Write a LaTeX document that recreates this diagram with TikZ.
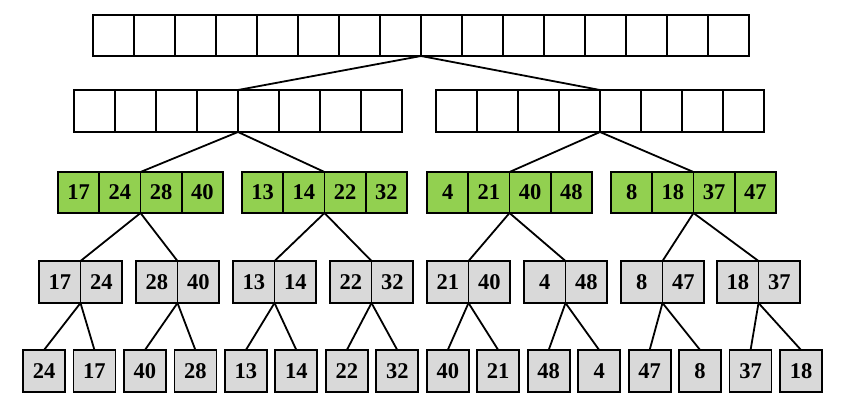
\documentclass[tikz,border=0pt]{standalone}
\usepackage{fontspec}
\setmainfont{Liberation Serif}
\usetikzlibrary{positioning}
\definecolor{mergegreen}{HTML}{92D050}
\definecolor{splitgray}{HTML}{D9D9D9}

\begin{document}
\begin{tikzpicture}[
  x=1pt, y=-1pt,
  cell/.style={draw, line width=1.8pt, inner sep=0pt, outer sep=0pt, minimum height=41pt, font=\fontsize{22.5}{24}\selectfont\bfseries},
  emptycell/.style={cell, minimum width=41pt},
  mergecell/.style={cell, fill=mergegreen, minimum width=41.25pt},
  paircell/.style={cell, fill=splitgray, minimum width=41.5pt, minimum height=42pt},
  leafcell/.style={cell, fill=splitgray, minimum width=42pt, minimum height=42pt},
  link/.style={line width=1.8pt}
]
\useasboundingbox (0,0) rectangle (845,400);

% Row 1: full array
\foreach \i in {1,...,16}
  \node[emptycell] (t\i) at ({93+41*(\i-0.5)}, 35.5) {};

% Row 2: two halves
\foreach \g/\x in {1/74, 2/436}
  \foreach \i in {1,...,8}
    \node[emptycell, minimum height=42pt] (h\g-\i) at ({\x+41*(\i-0.5)}, 111) {};

% Row 3: sorted quarters
\foreach \g/\x/\a/\b/\c/\d in {1/58/17/24/28/40, 2/242/13/14/22/32, 3/427/4/21/40/48, 4/611/8/18/37/47}
  \foreach \i/\v in {1/\a, 2/\b, 3/\c, 4/\d}
    \node[mergecell] (g\g-\i) at ({\x+41.25*(\i-0.5)}, 192.5) {\v};

% Row 4: sorted pairs
\foreach \p/\x/\a/\b in {1/39/17/24, 2/136/28/40, 3/233/13/14, 4/330/22/32, 5/427/21/40, 6/524/4/48, 7/621/8/47, 8/717/18/37} {
  \node[paircell] (p\p-1) at ({\x+20.75}, 282) {\a};
  \node[paircell] (p\p-2) at ({\x+62.25}, 282) {\b};
}

% Row 5: single elements
\foreach \v [count=\i] in {24,17,40,28,13,14,22,32,40,21,48,4,47,8,37,18}
  \node[leafcell] (l\i) at ({44+50.47*(\i-1)}, 371) {\v};

% Connectors
\draw[link] (t8.south east) -- (h1-4.north east);
\draw[link] (t8.south east) -- (h2-4.north east);
\foreach \g in {1,2} {
  \pgfmathtruncatemacro{\ga}{2*\g-1}
  \pgfmathtruncatemacro{\gb}{2*\g}
  \draw[link] (h\g-4.south east) -- (g\ga-2.north east);
  \draw[link] (h\g-4.south east) -- (g\gb-2.north east);
}
\foreach \k in {1,...,4} {
  \pgfmathtruncatemacro{\pa}{2*\k-1}
  \pgfmathtruncatemacro{\pb}{2*\k}
  \draw[link] (g\k-2.south east) -- (p\pa-1.north east);
  \draw[link] (g\k-2.south east) -- (p\pb-1.north east);
}
\foreach \k in {1,...,8} {
  \pgfmathtruncatemacro{\la}{2*\k-1}
  \pgfmathtruncatemacro{\lb}{2*\k}
  \draw[link] (p\k-1.south east) -- (l\la.north);
  \draw[link] (p\k-1.south east) -- (l\lb.north);
}

\end{tikzpicture}
\end{document}
